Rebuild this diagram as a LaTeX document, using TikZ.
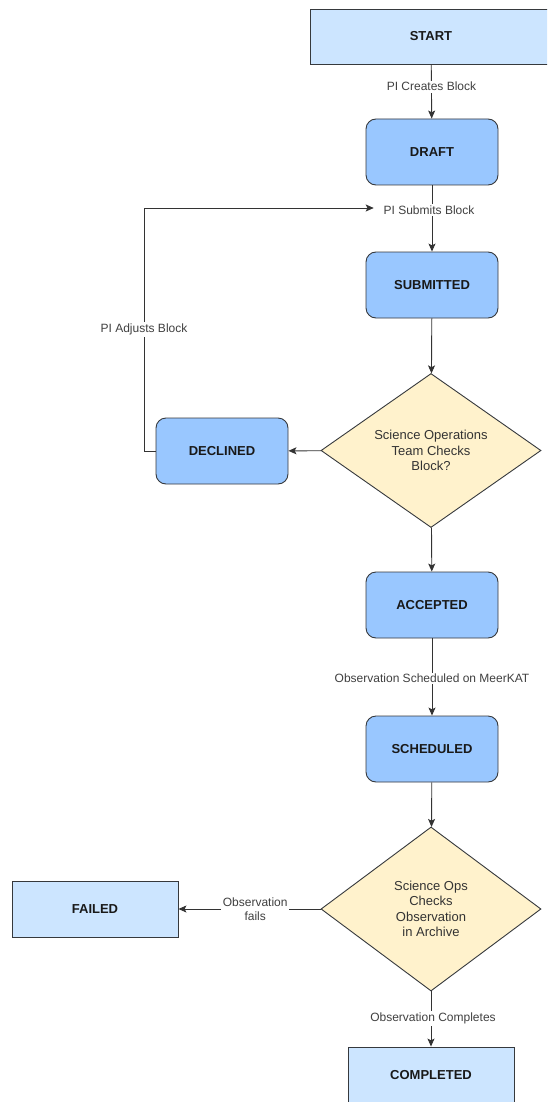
\documentclass[tikz,border=0pt]{standalone}
\usepackage{fontspec}
\setmainfont{Liberation Sans}
\usetikzlibrary{shapes.geometric,arrows.meta}
\definecolor{lightbox}{HTML}{CCE5FF}
\definecolor{statebox}{HTML}{99C7FF}
\definecolor{decbox}{HTML}{FFF2CC}
\definecolor{edgecol}{HTML}{333333}
\definecolor{bordercol}{HTML}{36393D}
\tikzset{
  endbox/.style={draw=bordercol, line width=0.9pt, fill=lightbox, minimum width=242pt, minimum height=55pt, font=\fontsize{13}{15}\selectfont\bfseries, text=black!90, inner sep=0pt},
  statenode/.style={draw=bordercol, line width=0.9pt, fill=statebox, rounded corners=10pt, minimum width=132pt, minimum height=66pt, font=\fontsize{13}{15}\selectfont\bfseries, text=black!90, inner sep=0pt},
  decnode/.style={draw=bordercol, line width=0.9pt, fill=decbox, diamond, inner sep=0pt, font=\fontsize{13}{15.5}\selectfont, text=black!80, align=center},
  conn/.style={draw=edgecol, line width=0.9pt, -{Stealth[length=8pt,width=7pt,inset=1.8pt]}},
  edgelabel/.style={fill=white, font=\fontsize{12}{14.5}\selectfont, text=black!75, inner sep=1.5pt, align=center},
}
\begin{document}
\begin{tikzpicture}[x=1pt,y=-1pt]
\useasboundingbox (0,0) rectangle (547,1102);
\clip (0,0) rectangle (547,1102);
\fill[white] (0,0) rectangle (547,1102);

\node[endbox] (start) at (431,36.5) {START};
\node[statenode] (draft) at (432,152) {DRAFT};
\node[statenode] (submitted) at (432,285) {SUBMITTED};
\node[decnode, minimum width=220pt, minimum height=153pt] (check) at (431,450.5) {Science Operations\\Team Checks\\Block?};
\node[statenode] (declined) at (222,451) {DECLINED};
\node[statenode] (accepted) at (432,605) {ACCEPTED};
\node[statenode] (scheduled) at (432,749) {SCHEDULED};
\node[decnode, minimum width=220pt, minimum height=164pt] (archive) at (431,909) {Science Ops\\Checks\\Observation\\in Archive};
\node[endbox, minimum width=166pt, minimum height=56pt] (failed) at (95,909) {FAILED};
\node[endbox, minimum width=166pt, minimum height=56pt] (completed) at (431,1075) {COMPLETED};

\draw[conn] (start) -- node[edgelabel, pos=0.41] {PI Creates Block} (draft);
\draw[conn] (draft) -- node[edgelabel, pos=0.37, xshift=-3pt] (submitlbl) {PI Submits Block} (submitted);
\draw[conn] (submitted) -- (check);
\draw[conn] (check) -- (declined);
\coordinate (loopbl) at (144,451);
\coordinate (looptl) at (144,208);
\draw[conn] (declined.west) -- (loopbl) -- node[edgelabel, pos=0.5] {PI Adjusts Block} (looptl) -- ([xshift=-8pt]submitlbl.west |- looptl);
\draw[conn] (check) -- (accepted);
\draw[conn] (accepted) -- node[edgelabel, pos=0.52] {Observation Scheduled on MeerKAT} (scheduled);
\draw[conn] (scheduled) -- (archive);
\draw[conn] (archive) -- node[edgelabel, pos=0.46] {Observation\\fails} (failed);
\draw[conn] (archive) -- node[edgelabel, pos=0.49, xshift=2pt] {Observation Completes} (completed);
\end{tikzpicture}
\end{document}
